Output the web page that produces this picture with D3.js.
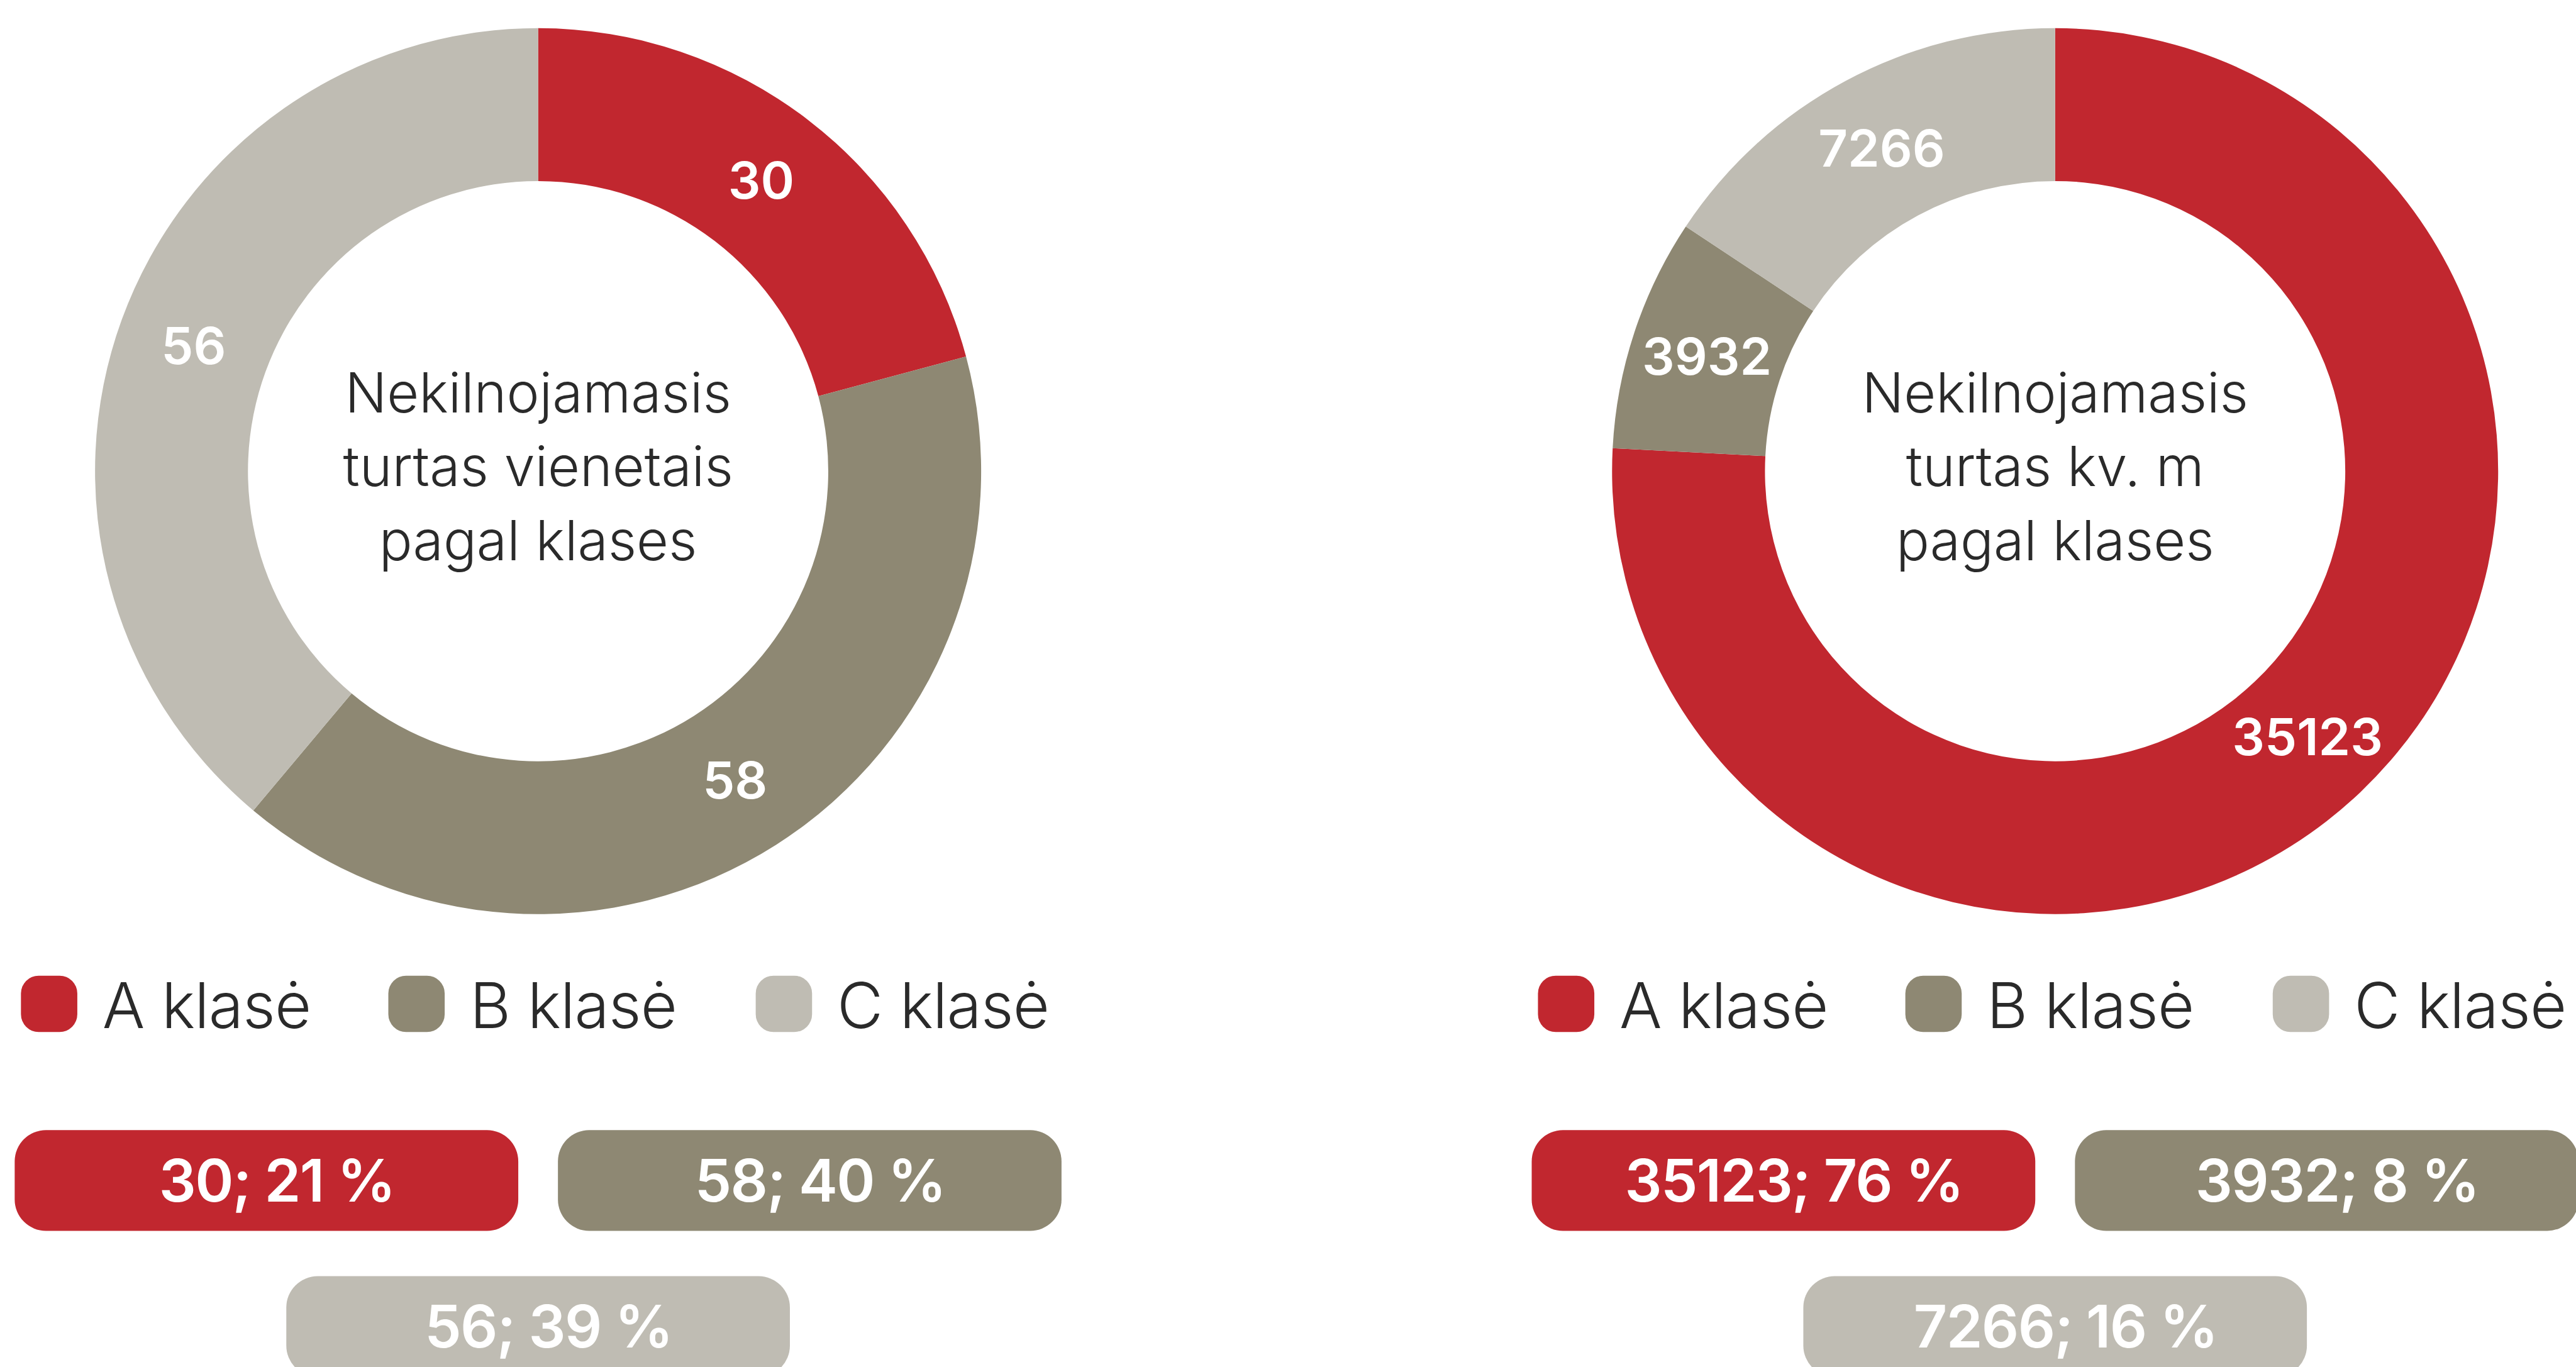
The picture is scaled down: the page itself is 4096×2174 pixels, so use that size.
<!DOCTYPE html>
<html>
<head>
<meta charset="utf-8">
<script src="https://cdn.jsdelivr.net/npm/d3@7"></script>
<style>
  html, body { margin: 0; padding: 0; background: #fff; overflow: hidden; }
  svg { display: block; font-family: Inter, "Noto Sans", sans-serif; }
</style>
</head>
<body>
<div id="chart"></div>
<script>
// Chart data
var categories = ["A klasė", "B klasė", "C klasė"];
var unitsValues = [30, 58, 56];
var areaValues = [35123, 3932, 7266];
var unitsTitle = ["Nekilnojamasis", "turtas vienetais", "pagal klases"];
var areaTitle = ["Nekilnojamasis", "turtas kv. m", "pagal klases"];
var classColors = ["#c1272f", "#8e8873", "#bfbcb3"];

// Reference size, drawn into the window through the viewBox
var refWidth = 4936;
var refHeight = 2620;
var svgWidth = 4096;
var svgHeight = 2174;

var svg = d3.select("#chart")
  .append("svg")
  .attr("width", svgWidth)
  .attr("height", svgHeight)
  .attr("viewBox", `0 0 ${refWidth} ${refHeight}`);

var color = d3.scaleOrdinal().domain(categories).range(classColors);

var outerR = 849;
var innerR = 556;

var pie = d3.pie().sort(null).value(d => d.value);
var arc = d3.arc().innerRadius(innerR).outerRadius(outerR);
var labelArc = d3.arc().innerRadius((innerR + outerR) / 2).outerRadius((innerR + outerR) / 2);

function drawPanel(cx, values, title) {
  var data = categories.map((c, i) => ({ cat: c, value: values[i] }));
  var total = d3.sum(values);
  var cy = 903;

  var g = svg.append("g").attr("transform", `translate(${cx}, ${cy})`);

  var slices = pie(data);

  g.selectAll("path")
    .data(slices)
    .enter()
    .append("path")
    .attr("d", arc)
    .attr("fill", d => color(d.data.cat));

  // value labels on the ring
  g.selectAll("text.slice")
    .data(slices)
    .enter()
    .append("text")
    .attr("class", "slice")
    .attr("x", d => labelArc.centroid(d)[0])
    .attr("y", d => labelArc.centroid(d)[1])
    .attr("dy", "0.36em")
    .attr("text-anchor", "middle")
    .attr("fill", "#fff")
    .attr("font-size", 98)
    .attr("font-weight", 600)
    .text(d => d.data.value);

  // centre title
  g.selectAll("text.title")
    .data(title)
    .enter()
    .append("text")
    .attr("class", "title")
    .attr("x", 0)
    .attr("y", (d, i) => 29 + (i - 1) * 142)
    .attr("text-anchor", "middle")
    .attr("fill", "#2a2a2a")
    .attr("font-size", 106)
    .attr("font-weight", 350)
    .text(d => d);

  // legend
  var legendX = d3.scaleBand()
    .domain(categories)
    .range([cx - 991, cx - 991 + 3 * 704]);

  var legend = svg.append("g");
  legend.selectAll("rect")
    .data(categories)
    .enter()
    .append("rect")
    .attr("x", d => legendX(d))
    .attr("y", 1870)
    .attr("width", 108)
    .attr("height", 108)
    .attr("rx", 34)
    .attr("fill", d => color(d));

  legend.selectAll("text")
    .data(categories)
    .enter()
    .append("text")
    .attr("x", d => legendX(d) + 156)
    .attr("y", 1970)
    .attr("fill", "#2a2a2a")
    .attr("font-size", 121)
    .attr("font-weight", 350)
    .attr("letter-spacing", -1)
    .text(d => d);

  // value / share pills
  var pillW = 965, pillH = 193, gap = 76;
  var pillPos = [
    { x: cx - gap / 2 - pillW, y: 2166 },
    { x: cx + gap / 2, y: 2166 },
    { x: cx - pillW / 2, y: 2446 }
  ];

  var pills = svg.append("g").selectAll("g")
    .data(data)
    .enter()
    .append("g")
    .attr("transform", (d, i) => `translate(${pillPos[i].x}, ${pillPos[i].y})`);

  pills.append("rect")
    .attr("width", pillW)
    .attr("height", pillH)
    .attr("rx", 60)
    .attr("fill", d => color(d.cat));

  pills.append("text")
    .attr("x", pillW / 2 + 20)
    .attr("y", pillH / 2)
    .attr("dy", "0.36em")
    .attr("text-anchor", "middle")
    .attr("fill", "#fff")
    .attr("font-size", 112)
    .attr("font-weight", 600)
    .attr("letter-spacing", -2)
    .text(d => `${d.value}; ${Math.round(d.value / total * 100)} %`);
}

drawPanel(1031, unitsValues, unitsTitle);
drawPanel(3938, areaValues, areaTitle);
</script>
</body>
</html>
